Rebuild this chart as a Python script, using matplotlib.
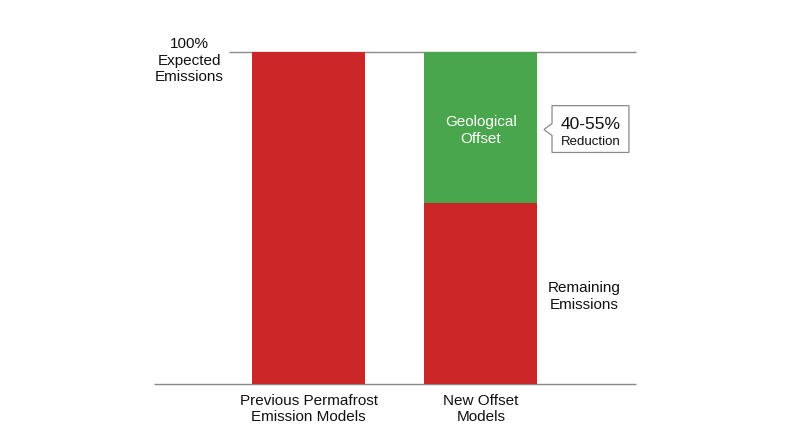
import matplotlib
matplotlib.use("Agg")
import matplotlib.pyplot as plt

# chart data (share of expected emissions, %)
categories = ["Previous Permafrost\nEmission Models", "New Offset\nModels"]
remaining = [100.0, 54.5]
offset = [0.0, 45.5]
total_label = "100%\nExpected\nEmissions"

RED = "#cc2728"
GREEN = "#4aa64c"
LINE = "#8a8a8a"

plt.rcParams['font.family'] = ['Liberation Sans', 'DejaVu Sans']

fig = plt.figure(figsize=(8, 4.47), dpi=100)
ax = fig.add_axes([0.1925, 0.1409, 0.6025, 0.7427])

x = list(range(len(categories)))
w = 0.655
ax.bar(x, remaining, width=w, color=RED, zorder=2)
ax.bar(x, offset, width=w, bottom=remaining, color=GREEN, zorder=2)

ax.set_xlim(-0.896, 1.899)
ax.set_ylim(0, 100)
ax.axis("off")

# baseline and 100% line
ax.hlines(0, -0.896, 1.899, color=LINE, lw=1, zorder=1, clip_on=False)
ax.hlines(100, -0.461, 1.899, color=LINE, lw=1, zorder=1, clip_on=False)

ax.text(-0.69, 97.4, total_label, ha="center", va="center", fontsize=11,
        linespacing=1.2, color="#111111")

# category labels
for i, lab in enumerate(categories):
    ax.text(x[i], -3.0, lab, ha="center", va="top", fontsize=11,
            linespacing=1.2, color="#111111")

# label inside green section
mid = remaining[1] + offset[1] / 2
ax.text(x[1], mid - 0.9, "Geological\nOffset", ha="center",
        va="center", fontsize=11, color="white", linespacing=1.2)

ax.text(1.6, remaining[1] * 0.5 - 0.9, "Remaining\nEmissions", ha="center", va="center",
        fontsize=11, linespacing=1.2, color="#111111")

# callout box with pointer
bx0, bx1 = 1.412, 1.858
by0, by1 = mid - 7.5, mid + 6.6
cy = mid - 0.6
px = [bx0, bx0, bx1, bx1, bx0, bx0, bx0 - 0.047, bx0]
py = [cy + 1.8, by1, by1, by0, by0, cy - 1.8, cy, cy + 1.8]
ax.fill(px, py, facecolor="white", edgecolor=LINE, lw=0.9, zorder=3)
ax.text((bx0 + bx1) / 2, mid + 0.9, "40-55%", ha="center", va="center",
        fontsize=12.5, color="#111111", zorder=4)
ax.text((bx0 + bx1) / 2, mid - 4.2, "Reduction", ha="center", va="center",
        fontsize=9.5, color="#111111", zorder=4)

fig.savefig("out.png", dpi=100)
